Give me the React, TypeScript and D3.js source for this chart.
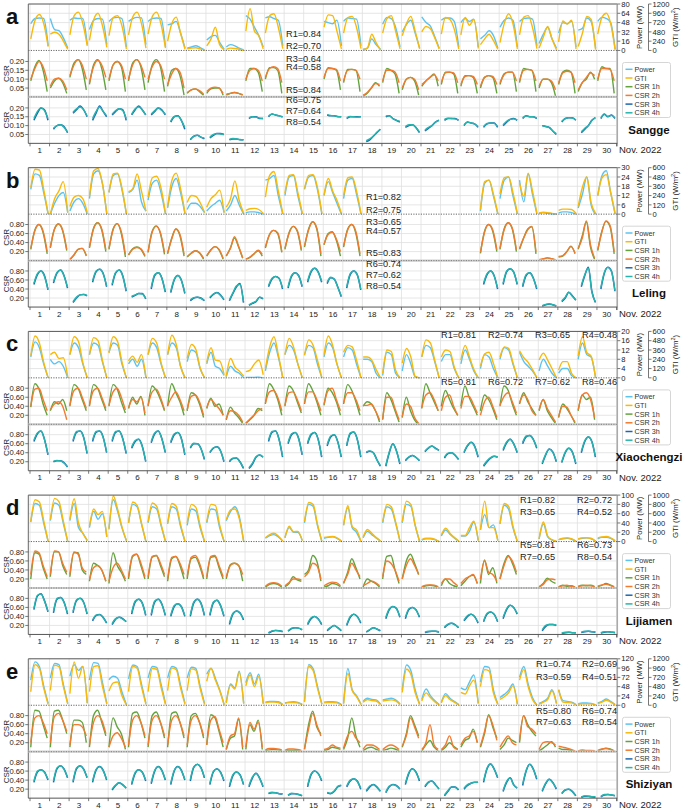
import React from "react";
import * as d3 from "d3";

type Day = number[] | null;

// ---------- shared labels ----------
const SERIES_NAMES = ["Power", "GTI", "CSR 1h", "CSR 2h", "CSR 3h", "CSR 4h"];
const SERIES_COLORS = ["#5cc3f0", "#f9b90a", "#62a33e", "#f47a2e", "#1c66b2", "#25b5ae"];
const DAY_LABELS = d3.range(1, 31).map(String);
const MONTH_LABEL = "Nov. 2022";
const SITES = ["Sangge", "Leling", "Xiaochengzi", "Lijiamen", "Shiziyan"];
const LETTERS = ["a", "b", "c", "d", "e"];

// ---------- Sangge ----------
const sanggePower: Day[] = [
  [46,55,56,55,8],[55,36,34,22,4],[52,56,55,55,10],[36,52,55,54,10],[50,56,57,55,6],
  [50,55,57,56,10],[50,55,56,55,6],[44,46,50,30,4],[4,6,8,5,1],[18,24,26,14,2],
  [6,10,8,4,1],[60,54,40,26,6],[56,58,55,52,8],null,null,
  [50,48,46,52,8],[50,56,55,54,8],[2,4,20,10,2],[45,57,55,40,6],[32,45,52,30,4],
  [58,48,42,24,4],[52,56,56,50,6],[48,55,50,54,6],[20,26,34,26,4],[40,52,56,52,6],
  [50,55,56,54,8],[12,28,40,20,4],[30,48,46,50,6],[35,38,56,50,4],[50,57,55,48,2],
];
const sanggeGTI: Day[] = [
  [300,780,930,700,100],[420,470,420,250,30],[400,900,990,700,120],[260,800,960,650,80],[380,850,900,640,40],
  [400,870,990,700,60],[420,880,990,680,60],[240,700,860,450,30],[40,60,70,40,0],[120,300,600,150,20],
  [30,60,50,30,0],[500,1080,500,380,40],[450,900,950,600,50],null,null,
  [600,920,900,500,40],[450,850,880,600,50],[20,60,420,200,10],[450,820,900,500,40],[380,700,880,500,40],
  [480,620,560,330,40],[420,850,800,550,40],[400,850,650,800,50],[150,300,420,260,30],[200,700,950,700,40],
  [400,860,900,600,50],[60,350,620,300,20],[220,760,680,780,40],[100,450,880,800,20],[420,860,960,700,20],
];
const sanggeCSR1h: Day[] = [
  [0.09,0.17,0.205,0.15,0.03],[0.05,0.09,0.105,0.08,0.02],[0.11,0.19,0.21,0.16,0.04],[0.07,0.18,0.21,0.16,0.04],[0.09,0.18,0.2,0.17,0.03],
  [0.09,0.19,0.21,0.17,0.04],[0.08,0.18,0.21,0.17,0.03],[0.06,0.15,0.16,0.12,0.01],[0.02,0.04,0.045,0.03,0.01],[0.02,0.045,0.05,0.05,0.01],
  [0.01,0.02,0.025,0.02,0.01],[0.09,0.16,0.16,0.14,0.03],[0.1,0.165,0.165,0.15,0.02],null,null,
  [0.1,0.165,0.16,0.15,0.04],[0.08,0.155,0.155,0.15,0.03],[0.005,0.02,0.05,0.08,0.06],[0.08,0.16,0.15,0.13,0.02],[0.04,0.1,0.11,0.09,0.01],
  [0.06,0.09,0.11,0.13,0.06],[0.07,0.14,0.14,0.13,0.02],[0.06,0.12,0.12,0.11,0.02],[0.05,0.11,0.12,0.11,0.02],[0.07,0.13,0.14,0.14,0.03],
  [0.08,0.16,0.155,0.15,0.03],[0.05,0.1,0.1,0.08,0.005],[0.07,0.14,0.15,0.14,0.02],[0.03,0.08,0.1,0.14,0.1],[0.09,0.17,0.16,0.16,0.02],
];
const sanggeCSR2h: Day[] = [
  [0.1,0.16,0.2,0.17,0.09],[0.06,0.1,0.105,0.09,0.04],[0.12,0.18,0.21,0.18,0.1],[0.08,0.17,0.205,0.18,0.11],[0.1,0.18,0.2,0.18,0.1],
  [0.1,0.18,0.21,0.18,0.11],[0.1,0.17,0.2,0.18,0.1],[0.07,0.13,0.16,0.14,0.05],[0.025,0.04,0.045,0.035,0.015],[0.03,0.05,0.055,0.05,0.02],
  [0.015,0.02,0.025,0.02,0.012],[0.1,0.15,0.16,0.15,0.09],[0.11,0.16,0.17,0.16,0.08],null,null,
  [0.11,0.16,0.16,0.155,0.09],[0.09,0.15,0.155,0.15,0.1],[0.01,0.025,0.05,0.075,0.07],[0.09,0.15,0.15,0.14,0.08],[0.05,0.1,0.11,0.1,0.04],
  [0.07,0.09,0.11,0.125,0.09],[0.08,0.135,0.14,0.135,0.08],[0.07,0.115,0.12,0.115,0.07],[0.06,0.11,0.12,0.115,0.07],[0.08,0.125,0.14,0.14,0.09],
  [0.09,0.15,0.155,0.15,0.09],[0.06,0.1,0.1,0.09,0.04],[0.08,0.135,0.145,0.14,0.08],[0.04,0.08,0.11,0.135,0.12],[0.1,0.16,0.16,0.155,0.09],
];
const sanggeCSR3h: Day[] = [
  [0.13,0.17,0.2,0.19,0.13],[0.08,0.1,0.105,0.095,0.06],[0.17,0.19,0.21,0.19,0.15],[0.13,0.17,0.21,0.18,0.15],[0.16,0.18,0.195,0.19,0.13],
  [0.16,0.19,0.21,0.19,0.16],[0.16,0.18,0.2,0.19,0.16],[0.12,0.15,0.155,0.13,0.08],[0.02,0.04,0.045,0.035,0.025],[0.03,0.045,0.055,0.055,0.05],
  [0.02,0.025,0.025,0.02,0.02],[0.14,0.15,0.15,0.14,0.14],[0.15,0.165,0.16,0.155,0.15],null,null,
  [0.16,0.155,0.155,0.15,0.15],[0.14,0.15,0.15,0.15,0.15],[0.01,0.02,0.04,0.06,0.08],[0.15,0.155,0.14,0.13,0.12],[0.09,0.1,0.105,0.09,0.06],
  [0.07,0.085,0.1,0.12,0.13],[0.13,0.14,0.14,0.14,0.13],[0.1,0.12,0.115,0.11,0.09],[0.09,0.11,0.115,0.115,0.09],[0.1,0.12,0.135,0.14,0.13],
  [0.14,0.155,0.15,0.15,0.14],[0.1,0.095,0.09,0.07,0.05],[0.12,0.14,0.145,0.145,0.13],[0.06,0.08,0.1,0.13,0.145],[0.14,0.165,0.15,0.16,0.14],
];
const sanggeCSR4h: Day[] = [
  [0.14,0.18,0.2,0.185,0.14],[0.085,0.1,0.105,0.09,0.065],[0.175,0.195,0.205,0.19,0.155],[0.14,0.18,0.205,0.18,0.155],[0.165,0.185,0.195,0.185,0.14],
  [0.165,0.195,0.205,0.19,0.16],[0.165,0.185,0.2,0.185,0.165],[0.125,0.152,0.155,0.13,0.09],[0.025,0.04,0.045,0.035,0.03],[0.035,0.05,0.055,0.053,0.05],
  [0.022,0.027,0.025,0.022,0.02],[0.145,0.15,0.148,0.142,0.14],[0.155,0.165,0.16,0.155,0.148],null,null,
  [0.162,0.158,0.155,0.152,0.15],[0.145,0.152,0.15,0.148,0.15],[0.015,0.025,0.04,0.062,0.08],[0.155,0.155,0.14,0.13,0.125],[0.095,0.105,0.105,0.09,0.065],
  [0.075,0.09,0.1,0.12,0.13],[0.135,0.142,0.14,0.138,0.132],[0.105,0.12,0.115,0.11,0.095],[0.095,0.112,0.115,0.113,0.095],[0.105,0.125,0.135,0.138,0.132],
  [0.145,0.155,0.15,0.15,0.142],[0.1,0.095,0.088,0.07,0.055],[0.125,0.14,0.145,0.143,0.132],[0.065,0.085,0.1,0.128,0.145],[0.145,0.162,0.152,0.158,0.145],
];
const sanggeR = [0.84, 0.70, 0.64, 0.58, 0.84, 0.75, 0.64, 0.54];

// ---------- Leling ----------
const lelingPower: Day[] = [
  [16,26,25,14,0],[0,7,12,14,1],[2,8,10,7,0],[10,26,28,20,0],[14,25,26,16,0],
  [14,16,22,8,2],[9,20,22,14,0],[4,18,23,14,0],[3,7,7,5,1],[2,5,7,9,1],
  [2,6,12,6,0],[1,1.5,1.5,1,0],[22,23,25,12,0],[12,24,25,12,0],[16,24,25,16,0],
  [12,21,14,7,0],[10,22,23,13,0],null,null,null,
  null,null,null,[2,20,22,12,0],[10,22,24,12,0],
  [22,8,26,13,0],[0.5,1,0.5,0.3,0],[0.8,1.5,1.5,1,0],[4,13,24,6,0],[12,25,28,14,0],
];
const lelingGTI: Day[] = [
  [340,580,570,320,0],[0,200,300,420,20],[100,220,240,200,20],[230,560,590,400,0],[280,520,530,340,10],
  [290,330,520,300,40],[220,470,490,340,10],[100,440,530,330,10],[150,240,230,150,20],[90,200,250,310,20],
  [90,200,430,180,10],[50,70,75,60,10],[220,500,550,300,10],[270,500,510,280,10],[330,500,510,350,10],
  [250,460,300,180,10],[240,470,480,300,10],null,null,null,
  null,null,null,[60,420,440,260,10],[260,470,480,280,10],
  [400,230,530,300,10],[15,25,20,10,5],[50,65,65,60,10],[100,350,480,150,10],[240,470,510,280,10],
];
const lelingCSR1h: Day[] = [
  [0.25,0.68,0.8,0.62,0.15],[0.28,0.7,0.81,0.66,0.22],[0.02,0.12,0.25,0.27,0.1],[0.28,0.72,0.84,0.68,0.2],[0.25,0.7,0.82,0.6,0.08],
  [0.12,0.26,0.3,0.25,0.09],[0.18,0.65,0.77,0.6,0.14],[0.15,0.5,0.7,0.55,0.1],[0.08,0.17,0.22,0.17,0.03],[0.1,0.24,0.31,0.24,0.03],
  [0.1,0.28,0.5,0.3,0.05],[0.02,0.07,0.15,0.22,0.1],[0.28,0.58,0.67,0.6,0.18],[0.25,0.62,0.76,0.65,0.22],[0.3,0.7,0.86,0.7,0.1],
  [0.35,0.6,0.64,0.45,0.1],[0.3,0.7,0.8,0.6,0.1],null,null,null,
  null,null,null,[0.16,0.65,0.8,0.65,0.2],[0.25,0.7,0.84,0.7,0.2],
  [0.25,0.5,0.7,0.75,0.15],[0.01,0.03,0.06,0.04,0.01],[0.08,0.1,0.2,0.32,0.15],[0.25,0.55,0.86,0.3,0.03],[0.22,0.65,0.87,0.75,0.15],
];
const lelingCSR2h: Day[] = [
  [0.27,0.66,0.8,0.65,0.2],[0.3,0.69,0.81,0.68,0.25],[0.03,0.13,0.25,0.27,0.12],[0.3,0.7,0.84,0.7,0.24],[0.27,0.68,0.82,0.64,0.14],
  [0.13,0.25,0.29,0.26,0.11],[0.2,0.63,0.76,0.62,0.18],[0.17,0.48,0.7,0.58,0.14],[0.09,0.16,0.22,0.18,0.05],[0.11,0.23,0.31,0.25,0.05],
  [0.11,0.27,0.53,0.32,0.06],[0.03,0.08,0.15,0.23,0.14],[0.3,0.57,0.67,0.62,0.2],[0.27,0.6,0.76,0.67,0.25],[0.32,0.68,0.86,0.72,0.15],
  [0.36,0.58,0.63,0.48,0.2],[0.32,0.68,0.8,0.64,0.15],null,null,null,
  null,null,null,[0.18,0.63,0.8,0.68,0.24],[0.27,0.68,0.84,0.72,0.24],
  [0.27,0.5,0.68,0.76,0.2],[0.02,0.04,0.06,0.04,0.02],[0.09,0.11,0.2,0.31,0.17],[0.27,0.5,0.88,0.35,0.05],[0.24,0.63,0.88,0.78,0.2],
];
const lelingCSR3h: Day[] = [
  [0.5,0.72,0.8,0.7,0.38],[0.53,0.75,0.82,0.7,0.42],[0.1,0.2,0.27,0.28,0.25],[0.55,0.78,0.84,0.75,0.45],[0.48,0.75,0.82,0.7,0.35],
  [0.22,0.26,0.3,0.3,0.18],[0.4,0.7,0.76,0.65,0.33],[0.32,0.6,0.7,0.6,0.3],[0.14,0.2,0.22,0.2,0.14],[0.2,0.28,0.32,0.27,0.16],
  [0.14,0.3,0.45,0.52,0.1],[0.04,0.08,0.12,0.22,0.18],[0.45,0.62,0.68,0.64,0.4],[0.42,0.68,0.76,0.7,0.45],[0.55,0.78,0.86,0.78,0.55],
  [0.52,0.65,0.62,0.45,0.23],[0.42,0.72,0.8,0.72,0.38],null,null,null,
  null,null,null,[0.5,0.72,0.8,0.7,0.4],[0.5,0.78,0.85,0.78,0.5],
  [0.45,0.7,0.76,0.65,0.4],[0.02,0.05,0.07,0.05,0.02],[0.12,0.2,0.33,0.25,0.15],[0.45,0.7,0.88,0.35,0.1],[0.4,0.75,0.88,0.8,0.35],
];
const lelingCSR4h: Day[] = [
  [0.53,0.74,0.8,0.68,0.4],[0.56,0.77,0.82,0.69,0.44],[0.12,0.22,0.27,0.28,0.26],[0.58,0.8,0.84,0.74,0.47],[0.51,0.77,0.82,0.69,0.37],
  [0.24,0.27,0.3,0.29,0.19],[0.43,0.72,0.76,0.64,0.35],[0.35,0.62,0.7,0.59,0.32],[0.16,0.21,0.22,0.19,0.15],[0.22,0.29,0.32,0.26,0.17],
  [0.16,0.32,0.47,0.5,0.12],[0.05,0.09,0.13,0.22,0.19],[0.48,0.64,0.68,0.63,0.42],[0.45,0.7,0.76,0.69,0.47],[0.58,0.8,0.86,0.77,0.57],
  [0.55,0.66,0.62,0.44,0.25],[0.45,0.74,0.8,0.71,0.4],null,null,null,
  null,null,null,[0.53,0.74,0.8,0.69,0.42],[0.53,0.8,0.85,0.77,0.52],
  [0.48,0.72,0.76,0.64,0.42],[0.03,0.06,0.07,0.05,0.03],[0.14,0.22,0.33,0.24,0.16],[0.48,0.72,0.86,0.33,0.12],[0.43,0.77,0.88,0.79,0.37],
];
const lelingR = [0.82, 0.75, 0.65, 0.57, 0.83, 0.74, 0.62, 0.54];

// ---------- Xiaochengzi ----------
const xiaoPower: Day[] = [
  [9,15.5,13,6,0],[8,6,7,5,0],[10,15,13,6,0],[10,15,14,7,0],[11,15,14,6,0],
  [6,8,5,8,0],[10,15,13,6,0],[10,15,13,5,0],[7,12,11,4,0],[6,11,5,4,1],
  [0.5,5,3,2,0],[0.2,0.2,0.2,0.3,0],[3,11,15,9,0],[10,14,12,6,0],[10,14,13,6,0],
  [9,15,13,6,0],[9,13,12,6,0],[8,8,7,2,0],[1,11,10,2,0],[3,10,6,0.5,0],
  [9,14,13,7,0],[7,10,10,4,0],[6,12,8,3,0],[4,10,9,4,0],[8,13,12,6,0],
  [11,7,5,3,0],[3,8,5,2,0],[2,4,4,1,0],[8,15,10,9,0],null,
];
const xiaoGTI: Day[] = [
  [280,540,450,200,0],[300,330,250,260,10],[300,530,470,200,0],[300,520,480,230,0],[320,530,470,210,0],
  [220,280,200,300,10],[300,510,450,200,0],[300,550,430,150,0],[250,430,370,130,0],[200,390,230,220,40],
  [20,250,140,90,20],[80,100,180,230,40],[120,400,530,300,0],[300,510,400,180,0],[290,490,420,230,0],
  [300,540,420,180,0],[330,420,400,230,0],[270,270,230,110,0],[60,360,340,100,0],[190,380,270,20,0],
  [270,490,450,230,0],[270,360,340,140,0],[230,420,270,110,0],[150,310,330,190,0],[270,400,380,200,0],
  [350,260,200,110,0],[230,320,230,120,0],[100,210,210,60,0],[280,530,330,280,0],null,
];
const xiaoCSR1h: Day[] = [
  [0.38,0.9,0.78,0.45,0.2],[0.3,0.5,0.45,0.55,0.3],[0.4,0.88,0.8,0.55,0.3],[0.4,0.88,0.8,0.55,0.3],[0.4,0.88,0.78,0.5,0.25],
  [0.35,0.6,0.45,0.62,0.2],[0.4,0.85,0.75,0.55,0.3],[0.4,0.9,0.7,0.5,0.2],[0.3,0.7,0.65,0.45,0.15],[0.35,0.58,0.4,0.45,0.2],
  [0.1,0.38,0.25,0.15,0.02],[0.02,0.1,0.2,0.35,0.3],[0.45,0.9,0.78,0.55,0.2],[0.4,0.85,0.75,0.5,0.25],[0.45,0.9,0.75,0.5,0.2],
  [0.42,0.8,0.7,0.5,0.2],[0.45,0.88,0.75,0.5,0.2],[0.4,0.5,0.45,0.3,0.05],[0.1,0.7,0.55,0.3,0.05],[0.15,0.6,0.3,0.1,0.0],
  [0.35,0.9,0.7,0.5,0.3],[0.4,0.75,0.55,0.35,0.2],[0.4,0.85,0.6,0.4,0.2],[0.3,0.65,0.55,0.35,0.1],[0.4,0.85,0.75,0.45,0.2],
  [0.45,0.7,0.5,0.35,0.2],[0.3,0.55,0.3,0.15,0.02],[0.15,0.45,0.35,0.2,0.02],[0.3,0.65,0.55,0.6,0.1],null,
];
const xiaoCSR2h: Day[] = [
  [0.4,0.78,0.8,0.55,0.3],[0.32,0.45,0.5,0.4,0.1],[0.42,0.75,0.8,0.6,0.35],[0.42,0.75,0.8,0.6,0.35],[0.42,0.72,0.8,0.6,0.32],
  [0.36,0.55,0.5,0.6,0.25],[0.42,0.72,0.78,0.6,0.32],[0.42,0.6,0.72,0.55,0.3],[0.32,0.62,0.65,0.5,0.2],[0.36,0.55,0.45,0.35,0.2],
  [0.12,0.3,0.28,0.2,0.05],[0.03,0.12,0.2,0.3,0.35],[0.47,0.72,0.75,0.6,0.3],[0.42,0.7,0.72,0.55,0.3],[0.47,0.72,0.72,0.55,0.3],
  [0.44,0.75,0.8,0.55,0.3],[0.47,0.7,0.7,0.55,0.3],[0.42,0.42,0.45,0.3,0.1],[0.12,0.6,0.6,0.35,0.1],[0.17,0.45,0.4,0.15,0.02],
  [0.37,0.65,0.7,0.55,0.3],[0.3,0.6,0.65,0.4,0.2],[0.35,0.62,0.62,0.45,0.25],[0.2,0.5,0.6,0.4,0.15],[0.42,0.62,0.7,0.5,0.25],
  [0.47,0.65,0.55,0.3,0.2],[0.32,0.55,0.35,0.2,0.05],[0.17,0.4,0.38,0.2,0.05],[0.32,0.65,0.7,0.55,0.15],null,
];
const xiaoCSR3h: Day[] = [
  [0.65,0.82,0.88,0.7,0.35],[0.2,0.22,0.22,0.18,0.08],[0.65,0.85,0.88,0.75,0.38],[0.65,0.85,0.88,0.75,0.4],[0.65,0.85,0.88,0.72,0.38],
  [0.5,0.65,0.7,0.55,0.2],[0.62,0.82,0.88,0.72,0.4],[0.62,0.8,0.85,0.72,0.35],[0.5,0.6,0.6,0.5,0.25],[0.4,0.5,0.53,0.45,0.2],
  [0.2,0.27,0.28,0.2,0.05],[0.05,0.15,0.3,0.35,0.3],[0.65,0.85,0.88,0.7,0.3],[0.6,0.8,0.85,0.72,0.35],[0.6,0.8,0.85,0.7,0.3],
  [0.55,0.75,0.8,0.65,0.3],[0.55,0.82,0.86,0.7,0.3],[0.4,0.43,0.4,0.25,0.1],[0.1,0.4,0.6,0.45,0.15],[0.22,0.3,0.34,0.3,0.22],
  [0.42,0.5,0.55,0.5,0.45],[0.28,0.38,0.4,0.35,0.25],[0.4,0.55,0.63,0.55,0.3],[0.1,0.2,0.28,0.32,0.3],[0.45,0.62,0.7,0.6,0.4],
  [0.6,0.75,0.78,0.7,0.5],[0.15,0.35,0.48,0.42,0.2],[0.18,0.4,0.5,0.42,0.15],[0.4,0.65,0.75,0.65,0.3],null,
];
const xiaoCSR4h: Day[] = [
  [0.68,0.84,0.88,0.69,0.37],[0.21,0.23,0.22,0.17,0.09],[0.68,0.87,0.88,0.74,0.4],[0.68,0.87,0.88,0.74,0.42],[0.68,0.87,0.88,0.71,0.4],
  [0.53,0.67,0.7,0.54,0.22],[0.65,0.84,0.88,0.71,0.42],[0.65,0.82,0.85,0.71,0.37],[0.52,0.61,0.6,0.49,0.27],[0.42,0.51,0.53,0.44,0.22],
  [0.22,0.28,0.28,0.19,0.07],[0.07,0.17,0.31,0.35,0.31],[0.68,0.87,0.88,0.69,0.32],[0.63,0.82,0.85,0.71,0.37],[0.63,0.82,0.85,0.69,0.32],
  [0.58,0.77,0.8,0.64,0.32],[0.58,0.84,0.86,0.69,0.32],[0.42,0.44,0.4,0.24,0.12],[0.12,0.42,0.6,0.44,0.17],[0.24,0.31,0.34,0.29,0.23],
  [0.44,0.51,0.55,0.49,0.46],[0.3,0.39,0.4,0.34,0.26],[0.42,0.57,0.63,0.54,0.32],[0.12,0.22,0.29,0.32,0.31],[0.48,0.64,0.7,0.59,0.42],
  [0.63,0.77,0.78,0.69,0.52],[0.17,0.37,0.48,0.41,0.22],[0.2,0.42,0.5,0.41,0.17],[0.43,0.67,0.75,0.64,0.32],null,
];
const xiaoR = [0.81, 0.74, 0.65, 0.48, 0.81, 0.72, 0.62, 0.46];

// ---------- Lijiamen ----------
const lijiaPower: Day[] = [
  [42,82,78,40,0],[45,83,78,40,0],[45,82,30,18,2],[30,65,48,60,10],[28,90,65,30,2],
  [40,80,75,38,0],[40,75,70,35,0],[38,75,70,33,0],[35,70,66,30,0],[40,70,68,30,0],
  [45,65,75,55,0],null,[7,13,15,10,1],[8,30,20,20,2],[40,80,76,35,0],
  [7,9,10,7,1],[35,73,30,20,0],[8,22,15,8,1],[40,75,70,40,0],[40,80,76,35,0],
  [3,6,6,4,0],[12,25,16,8,1],[12,12,22,42,2],[25,58,30,36,2],[38,78,70,30,0],
  null,[5,38,10,3,0],[4,6,7,5,1],[5,7,8,6,1],[6,9,9,7,1],
];
const lijiaGTI: Day[] = [
  [440,900,850,450,0],[470,930,860,450,0],[480,920,400,180,20],[330,700,580,650,100],[260,980,700,320,20],
  [400,850,780,400,0],[420,830,760,380,0],[400,820,760,370,0],[400,800,740,350,0],[420,800,780,360,0],
  [470,680,700,500,0],null,[80,150,180,120,10],[90,330,210,220,20],[440,840,800,380,0],
  [90,100,110,80,10],[360,770,320,250,0],[100,260,180,90,10],[420,800,750,420,0],[420,870,800,360,0],
  [40,70,70,50,0],[140,290,180,90,10],[130,130,300,440,20],[250,870,300,300,20],[380,820,760,340,0],
  null,[60,420,120,40,10],[40,70,80,60,10],[60,80,80,70,10],[80,100,110,80,20],
];
const lijiaCSR1h: Day[] = [
  [0.2,0.78,0.75,0.45,0.2],[0.25,0.8,0.8,0.5,0.3],[0.25,0.78,0.78,0.4,0.3],[0.15,0.55,0.5,0.4,0.15],[0.1,0.78,0.5,0.35,0.15],
  [0.2,0.7,0.75,0.5,0.2],[0.2,0.68,0.72,0.5,0.25],[0.15,0.65,0.7,0.5,0.2],[0.2,0.65,0.68,0.5,0.2],[0.2,0.68,0.7,0.45,0.2],
  [0.2,0.52,0.55,0.5,0.15],null,[0.02,0.08,0.1,0.08,0.02],[0.03,0.1,0.25,0.18,0.15],[0.3,0.4,0.72,0.6,0.15],
  [0.02,0.05,0.1,0.08,0.03],[0.1,0.35,0.65,0.45,0.2],[0.02,0.2,0.15,0.1,0.02],[0.2,0.7,0.72,0.4,0.1],[0.2,0.6,0.75,0.55,0.3],
  [0.02,0.05,0.06,0.05,0.02],[0.05,0.2,0.1,0.05,0.02],[0.05,0.15,0.25,0.28,0.1],[0.1,0.62,0.3,0.45,0.1],[0.2,0.55,0.72,0.55,0.3],
  null,[0.02,0.1,0.22,0.15,0.1],[0.02,0.06,0.04,0.05,0.02],[0.03,0.06,0.05,0.06,0.03],[0.03,0.06,0.1,0.07,0.03],
];
const lijiaCSR2h: Day[] = [
  [0.3,0.82,0.78,0.5,0.25],[0.3,0.82,0.8,0.55,0.35],[0.3,0.8,0.75,0.45,0.35],[0.18,0.45,0.5,0.4,0.15],[0.15,0.45,0.55,0.4,0.2],
  [0.25,0.72,0.75,0.55,0.25],[0.25,0.7,0.72,0.55,0.3],[0.2,0.68,0.7,0.55,0.3],[0.25,0.68,0.72,0.55,0.25],[0.25,0.7,0.72,0.5,0.25],
  [0.25,0.5,0.55,0.5,0.3],null,[0.04,0.1,0.12,0.1,0.04],[0.05,0.12,0.2,0.2,0.18],[0.25,0.35,0.55,0.5,0.2],
  [0.05,0.1,0.13,0.12,0.05],[0.12,0.3,0.55,0.4,0.25],[0.05,0.1,0.15,0.12,0.05],[0.25,0.6,0.55,0.4,0.15],[0.2,0.5,0.65,0.5,0.3],
  [0.03,0.06,0.07,0.06,0.03],[0.1,0.2,0.2,0.12,0.05],[0.1,0.2,0.25,0.3,0.1],[0.2,0.6,0.35,0.3,0.15],[0.2,0.5,0.7,0.6,0.35],
  null,[0.03,0.08,0.18,0.2,0.18],[0.03,0.05,0.06,0.04,0.02],[0.04,0.05,0.06,0.05,0.03],[0.04,0.07,0.08,0.06,0.02],
];
const lijiaCSR3h: Day[] = [
  [0.55,0.85,0.9,0.75,0.5],[0.48,0.78,0.82,0.72,0.45],[0.48,0.75,0.8,0.72,0.45],[0.3,0.42,0.44,0.38,0.25],[0.22,0.34,0.38,0.35,0.28],
  [0.45,0.72,0.78,0.7,0.42],[0.42,0.72,0.78,0.68,0.42],[0.4,0.62,0.68,0.62,0.4],[0.4,0.7,0.78,0.7,0.42],[0.42,0.7,0.76,0.65,0.4],
  [0.22,0.45,0.52,0.48,0.32],null,[0.03,0.07,0.09,0.08,0.06],[0.07,0.13,0.15,0.14,0.1],[0.22,0.35,0.4,0.35,0.22],
  [0.08,0.15,0.2,0.15,0.08],[0.2,0.38,0.45,0.4,0.25],[0.05,0.1,0.15,0.12,0.08],[0.35,0.55,0.62,0.58,0.38],[0.35,0.55,0.6,0.55,0.38],
  [0.04,0.06,0.07,0.07,0.05],[0.15,0.22,0.25,0.22,0.15],[0.3,0.4,0.45,0.4,0.25],[0.28,0.45,0.5,0.45,0.28],[0.35,0.55,0.65,0.6,0.45],
  null,[0.08,0.18,0.22,0.22,0.2],[0.02,0.04,0.05,0.04,0.03],[0.04,0.06,0.07,0.06,0.05],[0.03,0.05,0.06,0.05,0.04],
];
const lijiaCSR4h: Day[] = [
  [0.58,0.87,0.9,0.74,0.52],[0.51,0.8,0.82,0.71,0.47],[0.51,0.77,0.8,0.71,0.47],[0.32,0.43,0.44,0.37,0.26],[0.24,0.35,0.38,0.34,0.29],
  [0.48,0.74,0.78,0.69,0.44],[0.45,0.74,0.78,0.67,0.44],[0.43,0.64,0.68,0.61,0.42],[0.43,0.72,0.78,0.69,0.44],[0.45,0.72,0.76,0.64,0.42],
  [0.25,0.47,0.52,0.47,0.34],null,[0.04,0.08,0.09,0.08,0.07],[0.08,0.14,0.15,0.14,0.11],[0.24,0.37,0.4,0.34,0.24],
  [0.1,0.16,0.2,0.15,0.09],[0.22,0.4,0.45,0.39,0.27],[0.06,0.11,0.15,0.12,0.09],[0.38,0.57,0.62,0.57,0.4],[0.38,0.57,0.6,0.54,0.4],
  [0.05,0.07,0.07,0.07,0.06],[0.17,0.23,0.25,0.21,0.16],[0.32,0.42,0.45,0.39,0.27],[0.3,0.47,0.5,0.44,0.3],[0.38,0.57,0.65,0.59,0.47],
  null,[0.1,0.2,0.22,0.22,0.21],[0.03,0.05,0.05,0.04,0.04],[0.05,0.07,0.07,0.06,0.06],[0.04,0.06,0.06,0.05,0.05],
];
const lijiaR = [0.82, 0.72, 0.65, 0.52, 0.81, 0.73, 0.65, 0.54];

// ---------- Shiziyan ----------
const shiziPower: Day[] = [
  [65,112,100,50,5],[70,108,105,55,5],[75,105,90,100,5],[65,110,108,60,5],[66,75,70,35,2],
  [68,104,100,55,5],[70,100,98,55,5],[70,100,96,52,5],[70,98,95,50,5],[80,96,70,40,2],
  [8,55,45,88,5],[58,84,55,80,5],[8,10,10,9,2],[6,8,9,7,2],[10,105,95,50,3],
  [8,9,9,8,2],[5,95,40,25,3],[10,18,15,14,3],[14,16,18,14,3],[40,104,90,40,3],
  [15,42,25,12,2],[8,30,18,10,2],[45,40,60,78,5],[60,100,98,40,3],[20,28,38,55,3],
  [72,100,55,20,0],[5,10,18,40,5],[40,12,10,8,2],[4,6,6,5,1],[6,10,16,10,2],
];
const shiziGTI: Day[] = [
  [350,1050,950,450,20],[380,1030,1000,500,30],[300,1120,700,1000,50],[350,1000,1020,500,30],[370,580,600,250,10],
  [350,1000,960,480,20],[350,950,930,470,20],[380,960,920,450,20],[380,940,910,440,20],[620,950,650,380,10],
  [60,520,420,850,40],[500,780,480,740,30],[60,80,80,70,10],[50,70,70,60,10],[80,1000,900,450,20],
  [60,70,70,60,10],[40,820,380,220,20],[80,150,120,110,20],[110,130,140,110,20],[330,930,800,330,20],
  [110,320,200,90,10],[60,250,150,80,10],[330,290,500,650,40],[480,920,890,330,20],[150,220,320,500,20],
  [650,920,480,150,0],[30,80,150,370,40],[400,80,70,60,10],[30,40,40,35,10],[40,80,130,80,10],
];
const shiziCSR1h: Day[] = [
  [0.1,0.92,0.9,0.6,0.3],[0.1,0.9,0.92,0.7,0.4],[0.1,0.7,0.7,0.65,0.2],[0.1,0.8,0.92,0.65,0.35],[0.1,0.75,0.55,0.4,0.05],
  [0.1,0.85,0.88,0.65,0.3],[0.1,0.8,0.88,0.65,0.3],[0.1,0.85,0.88,0.65,0.3],[0.1,0.8,0.85,0.65,0.3],[0.15,0.82,0.75,0.45,0.1],
  [0.05,0.3,0.35,0.72,0.05],[0.05,0.6,0.45,0.7,0.05],[0.02,0.04,0.05,0.04,0.02],[0.01,0.03,0.03,0.03,0.01],[0.05,0.6,0.9,0.55,0.4],
  [0.02,0.05,0.1,0.08,0.05],[0.05,0.3,0.75,0.35,0.1],[0.02,0.08,0.1,0.06,0.02],[0.03,0.05,0.08,0.06,0.02],[0.1,0.4,0.8,0.6,0.35],
  [0.01,0.15,0.25,0.1,0.02],[0.02,0.1,0.2,0.12,0.05],[0.1,0.25,0.3,0.5,0.2],[0.1,0.4,0.82,0.55,0.3],[0.05,0.15,0.3,0.25,0.2],
  [0.2,0.8,0.6,0.45,0.35],[0.02,0.08,0.15,0.22,0.1],[0.08,0.05,0.05,0.03,0.01],[0.01,0.02,0.02,0.02,0.01],[0.02,0.05,0.08,0.06,0.02],
];
const shiziCSR2h: Day[] = [
  [0.2,0.75,0.8,0.65,0.4],[0.2,0.78,0.85,0.7,0.45],[0.15,0.6,0.6,0.55,0.35],[0.15,0.65,0.8,0.7,0.4],[0.1,0.35,0.42,0.3,0.1],
  [0.15,0.7,0.8,0.65,0.35],[0.15,0.7,0.8,0.65,0.35],[0.15,0.7,0.8,0.65,0.35],[0.15,0.7,0.8,0.65,0.35],[0.15,0.7,0.78,0.5,0.2],
  [0.05,0.35,0.4,0.75,0.1],[0.1,0.65,0.5,0.65,0.1],[0.04,0.07,0.07,0.06,0.04],[0.03,0.06,0.06,0.05,0.03],[0.06,0.5,0.85,0.6,0.35],
  [0.05,0.08,0.15,0.1,0.08],[0.08,0.35,0.45,0.3,0.2],[0.05,0.15,0.15,0.12,0.05],[0.05,0.12,0.15,0.12,0.05],[0.12,0.35,0.75,0.55,0.3],
  [0.05,0.2,0.6,0.15,0.05],[0.05,0.15,0.35,0.1,0.05],[0.15,0.3,0.35,0.45,0.2],[0.12,0.45,0.8,0.6,0.25],[0.1,0.25,0.35,0.2,0.15],
  [0.25,0.8,0.55,0.5,0.4],[0.05,0.2,0.22,0.2,0.15],[0.12,0.1,0.08,0.05,0.02],[0.02,0.04,0.03,0.03,0.02],[0.03,0.06,0.07,0.05,0.02],
];
const shiziCSR3h: Day[] = [
  [0.35,0.58,0.63,0.58,0.4],[0.35,0.65,0.72,0.65,0.45],[0.35,0.65,0.72,0.65,0.45],[0.35,0.62,0.7,0.62,0.4],[0.18,0.28,0.34,0.3,0.22],
  [0.3,0.55,0.63,0.58,0.38],[0.32,0.6,0.7,0.62,0.4],[0.3,0.6,0.7,0.62,0.4],[0.38,0.68,0.75,0.68,0.45],[0.3,0.58,0.65,0.58,0.38],
  [0.25,0.5,0.58,0.52,0.3],[0.25,0.45,0.55,0.45,0.25],[0.1,0.12,0.12,0.1,0.09],[0.06,0.1,0.1,0.08,0.05],[0.25,0.52,0.6,0.55,0.38],
  [0.12,0.1,0.15,0.25,0.28],[0.25,0.38,0.43,0.38,0.2],[0.15,0.25,0.3,0.25,0.15],[0.12,0.25,0.3,0.28,0.2],[0.3,0.55,0.65,0.58,0.38],
  [0.25,0.35,0.38,0.3,0.2],[0.05,0.15,0.25,0.25,0.18],[0.2,0.28,0.33,0.35,0.35],[0.35,0.65,0.76,0.65,0.45],[0.15,0.35,0.45,0.3,0.22],
  [0.28,0.6,0.75,0.65,0.42],[0.15,0.32,0.42,0.35,0.2],[0.1,0.18,0.2,0.15,0.05],[0.02,0.04,0.04,0.03,0.02],[0.03,0.07,0.08,0.07,0.05],
];
const shiziCSR4h: Day[] = [
  [0.38,0.6,0.63,0.57,0.42],[0.38,0.67,0.72,0.64,0.47],[0.38,0.67,0.72,0.64,0.47],[0.38,0.64,0.7,0.61,0.42],[0.2,0.29,0.34,0.29,0.23],
  [0.33,0.57,0.63,0.57,0.4],[0.35,0.62,0.7,0.61,0.42],[0.33,0.62,0.7,0.61,0.42],[0.41,0.7,0.75,0.67,0.47],[0.33,0.6,0.65,0.57,0.4],
  [0.28,0.52,0.58,0.51,0.32],[0.28,0.47,0.55,0.44,0.27],[0.11,0.13,0.12,0.1,0.1],[0.07,0.11,0.1,0.08,0.06],[0.28,0.54,0.6,0.54,0.4],
  [0.13,0.11,0.16,0.26,0.29],[0.27,0.4,0.43,0.37,0.22],[0.17,0.27,0.3,0.24,0.16],[0.14,0.27,0.3,0.27,0.21],[0.33,0.57,0.65,0.57,0.4],
  [0.27,0.36,0.38,0.29,0.21],[0.07,0.17,0.25,0.24,0.19],[0.22,0.3,0.33,0.35,0.35],[0.38,0.67,0.76,0.64,0.47],[0.17,0.37,0.45,0.29,0.23],
  [0.31,0.62,0.75,0.64,0.44],[0.17,0.34,0.42,0.34,0.22],[0.11,0.19,0.2,0.14,0.06],[0.03,0.05,0.04,0.03,0.03],[0.04,0.08,0.08,0.07,0.06],
];
const shiziR = [0.74, 0.69, 0.59, 0.51, 0.80, 0.74, 0.63, 0.54];

// ---------- axis ticks ----------
const powerTicksA = [0, 16, 32, 48, 64, 80];
const gtiTicksA = [0, 240, 480, 720, 960, 1200];
const powerTicksB = [0, 6, 12, 18, 24, 30];
const gtiTicksB = [0, 120, 240, 360, 480, 600];
const powerTicksC = [0, 4, 8, 12, 16, 20];
const gtiTicksC = [0, 120, 240, 360, 480, 600];
const powerTicksD = [0, 20, 40, 60, 80, 100];
const gtiTicksD = [0, 200, 400, 600, 800, 1000];
const powerTicksE = [0, 24, 48, 72, 96, 120];
const gtiTicksE = [0, 240, 480, 720, 960, 1200];
const csrTicksSmall = [0.05, 0.1, 0.15, 0.2];
const csrTicksLarge = [0.2, 0.4, 0.6, 0.8];

// ---------- layout ----------
const W = 683, H = 810;
const PANEL_STEP = 163.7;
const PANEL_TOP0 = 4;
const SUB_H = 46.45;
const XL = 28.3, XR = 617.3;
const XG = 648.5;
const FR_TOP = [0.04, 0.26, 0.48, 0.7, 0.93];
const FR_MID = [0.04, 0.25, 0.46, 0.67, 0.88];
const FR_BOT = [0.2, 0.38, 0.56, 0.74, 0.92];
const FONT = "Liberation Sans, Arial, Helvetica, sans-serif";

type RPos = { x: number; y: number };
interface PanelCfg {
  series: Day[][];
  powerTicks: number[];
  gtiTicks: number[];
  csrTicks: number[];
  csrMax: number;
  r: number[];
  rPos: RPos[];
}

const vertR = (x: number): RPos[] =>
  [32.5, 45.2, 57.5, 66.2, 88.5, 99.2, 110.2, 120.9].map((y) => ({ x, y }));
const gridR = (xs: number[], ys: number[]): RPos[] =>
  [0, 1, 2, 3, 4, 5, 6, 7].map((i) => ({ x: xs[i % xs.length], y: ys[Math.floor(i / xs.length)] }));

const PANELS: PanelCfg[] = [
  {
    series: [sanggePower, sanggeGTI, sanggeCSR1h, sanggeCSR2h, sanggeCSR3h, sanggeCSR4h],
    powerTicks: powerTicksA, gtiTicks: gtiTicksA, csrTicks: csrTicksSmall, csrMax: 0.262,
    r: sanggeR, rPos: vertR(286),
  },
  {
    series: [lelingPower, lelingGTI, lelingCSR1h, lelingCSR2h, lelingCSR3h, lelingCSR4h],
    powerTicks: powerTicksB, gtiTicks: gtiTicksB, csrTicks: csrTicksLarge, csrMax: 1.03,
    r: lelingR, rPos: vertR(366),
  },
  {
    series: [xiaoPower, xiaoGTI, xiaoCSR1h, xiaoCSR2h, xiaoCSR3h, xiaoCSR4h],
    powerTicks: powerTicksC, gtiTicks: gtiTicksC, csrTicks: csrTicksLarge, csrMax: 1.03,
    r: xiaoR, rPos: gridR([441, 488, 535, 582], [7, 53.5]),
  },
  {
    series: [lijiaPower, lijiaGTI, lijiaCSR1h, lijiaCSR2h, lijiaCSR3h, lijiaCSR4h],
    powerTicks: powerTicksD, gtiTicks: gtiTicksD, csrTicks: csrTicksLarge, csrMax: 1.03,
    r: lijiaR, rPos: gridR([520, 577], [7.5, 19.8, 53.3, 65]),
  },
  {
    series: [shiziPower, shiziGTI, shiziCSR1h, shiziCSR2h, shiziCSR3h, shiziCSR4h],
    powerTicks: powerTicksE, gtiTicks: gtiTicksE, csrTicks: csrTicksLarge, csrMax: 1.03,
    r: shiziR, rPos: gridR([536, 582], [8.5, 20.8, 54.8, 65.8]),
  },
];

const x = d3.scaleLinear().domain([0, 30]).range([30, 616.5]);
const lineGen = d3.line<[number, number]>().curve(d3.curveMonotoneX);

function dayPaths(data: Day[], fr: number[], y: d3.ScaleLinear<number, number>): string {
  return data
    .map((day, i) => (day ? lineGen(day.map((v, j) => [x(i + fr[j]), y(v)] as [number, number])) || "" : ""))
    .join("");
}

function Panel({ cfg, idx }: { cfg: PanelCfg; idx: number }) {
  const top = PANEL_TOP0 + idx * PANEL_STEP;
  const y0 = top, y1 = top + SUB_H, y2 = top + 2 * SUB_H, y3 = top + 3 * SUB_H;
  const pMax = cfg.powerTicks[cfg.powerTicks.length - 1];
  const gMax = cfg.gtiTicks[cfg.gtiTicks.length - 1];
  const yP = d3.scaleLinear().domain([0, pMax]).range([y1, y0]);
  const yG = d3.scaleLinear().domain([0, gMax]).range([y1, y0]);
  const yM = d3.scaleLinear().domain([0, cfg.csrMax]).range([y2, y1]);
  const yB = d3.scaleLinear().domain([0, cfg.csrMax]).range([y3, y2]);
  const fmt = d3.format(".2f");
  const gridColor = "#e0e0e0";
  const tickColor = "#555";
  const [sP, sG, s1, s2, s3, s4] = cfg.series;

  return (
    <g fontFamily={FONT}>
      {/* vertical grid */}
      {d3.range(0, 31).map((k) => (
        <line key={"vg" + k} x1={x(k)} x2={x(k)} y1={y0} y2={y3} stroke={gridColor} strokeWidth={0.8} />
      ))}
      {/* horizontal grid */}
      {cfg.powerTicks.slice(1, -1).map((t) => (
        <line key={"hp" + t} x1={XL} x2={XR} y1={yP(t)} y2={yP(t)} stroke={gridColor} strokeWidth={0.8} />
      ))}
      {cfg.csrTicks.map((t) => (
        <g key={"hc" + t}>
          <line x1={XL} x2={XR} y1={yM(t)} y2={yM(t)} stroke={gridColor} strokeWidth={0.8} />
          <line x1={XL} x2={XR} y1={yB(t)} y2={yB(t)} stroke={gridColor} strokeWidth={0.8} />
        </g>
      ))}

      {/* series */}
      <path d={dayPaths(sP, FR_TOP, yP)} fill="none" stroke={SERIES_COLORS[0]} strokeWidth={1.4} strokeLinejoin="round" />
      <path d={dayPaths(sG, FR_TOP, yG)} fill="none" stroke={SERIES_COLORS[1]} strokeWidth={1.4} strokeLinejoin="round" />
      <path d={dayPaths(s1, FR_MID, yM)} fill="none" stroke={SERIES_COLORS[2]} strokeWidth={1.4} strokeLinejoin="round" />
      <path d={dayPaths(s2, FR_MID, yM)} fill="none" stroke={SERIES_COLORS[3]} strokeWidth={1.4} strokeLinejoin="round" />
      <path d={dayPaths(s3, FR_BOT, yB)} fill="none" stroke={SERIES_COLORS[4]} strokeWidth={1.5} strokeLinejoin="round" />
      <path d={dayPaths(s4, FR_BOT, yB)} fill="none" stroke={SERIES_COLORS[5]} strokeWidth={1.4} strokeLinejoin="round" />

      {/* frame */}
      <line x1={XL} x2={XR} y1={y0} y2={y0} stroke="#555" strokeWidth={1} />
      <line x1={XL} x2={XL} y1={y0} y2={y3} stroke="#666" strokeWidth={1} />
      <line x1={XR} x2={XR} y1={y0} y2={y3 + 3} stroke="#aaa" strokeWidth={1.5} />
      <line x1={XL} x2={XR} y1={y3} y2={y3} stroke="#555" strokeWidth={1} />
      <line x1={XL} x2={XR} y1={y1} y2={y1} stroke="#666" strokeWidth={1} strokeDasharray="1.2,1.3" />
      <line x1={XL} x2={XR} y1={y2} y2={y2} stroke="#cfcfcf" strokeWidth={2.2} />
      <line x1={XL} x2={XR} y1={y2} y2={y2} stroke="#777" strokeWidth={0.9} strokeDasharray="1.2,1.3" />

      {/* x axis */}
      {d3.range(0, 31).map((k) => (
        <line key={"xt" + k} x1={x(k)} x2={x(k)} y1={y3} y2={y3 + 3} stroke={tickColor} strokeWidth={0.8} />
      ))}
      {DAY_LABELS.map((lab, i) => (
        <text key={"xl" + i} x={x(i + 0.5)} y={y3 + 9.5} fontSize={8} textAnchor="middle" fill="#222">
          {lab}
        </text>
      ))}
      <text x={619} y={y3 + 9.8} fontSize={9.5} fill="#222">{MONTH_LABEL}</text>

      {/* CSR axes */}
      {cfg.csrTicks.map((t) => (
        <g key={"ct" + t}>
          <line x1={XL - 3} x2={XL} y1={yM(t)} y2={yM(t)} stroke={tickColor} strokeWidth={0.8} />
          <text x={XL - 4} y={yM(t)} dy="0.35em" fontSize={7.6} textAnchor="end" fill="#222">{fmt(t)}</text>
          <line x1={XL - 3} x2={XL} y1={yB(t)} y2={yB(t)} stroke={tickColor} strokeWidth={0.8} />
          <text x={XL - 4} y={yB(t)} dy="0.35em" fontSize={7.6} textAnchor="end" fill="#222">{fmt(t)}</text>
        </g>
      ))}
      <text transform={`translate(8.5,${(y1 + y2) / 2}) rotate(-90)`} fontSize={8} textAnchor="middle" fill="#222">CSR</text>
      <text transform={`translate(8.5,${(y2 + y3) / 2}) rotate(-90)`} fontSize={8} textAnchor="middle" fill="#222">CSR</text>

      {/* right axes */}
      {cfg.powerTicks.map((t) => (
        <g key={"pt" + t}>
          <line x1={XR} x2={XR + 3} y1={yP(t)} y2={yP(t)} stroke={tickColor} strokeWidth={0.8} />
          <text x={XR + 4} y={yP(t)} dy="0.35em" fontSize={7.6} fill="#222">{t}</text>
        </g>
      ))}
      <text transform={`translate(642,${(y0 + y1) / 2}) rotate(-90)`} fontSize={7.8} textAnchor="middle" fill="#222">Power (MW)</text>
      <line x1={XG} x2={XG} y1={y0} y2={y1} stroke={tickColor} strokeWidth={0.8} />
      {cfg.gtiTicks.map((t) => (
        <g key={"gt" + t}>
          <line x1={XG} x2={XG + 3} y1={yG(t)} y2={yG(t)} stroke={tickColor} strokeWidth={0.8} />
          <text x={XG + 4} y={yG(t)} dy="0.35em" fontSize={7.6} fill="#222">{t}</text>
        </g>
      ))}
      <text transform={`translate(677.5,${(y0 + y1) / 2}) rotate(-90)`} fontSize={7.8} textAnchor="middle" fill="#222">
        GTI (W/m<tspan fontSize={5.5} dy={-3}>2</tspan><tspan dy={3}>)</tspan>
      </text>

      {/* R values */}
      {cfg.r.map((v, i) => (
        <text key={"r" + i} x={cfg.rPos[i].x} y={top + cfg.rPos[i].y} fontSize={9.2} fill="#222">
          {`R${i + 1}=${v.toFixed(2)}`}
        </text>
      ))}

      {/* legend */}
      <rect x={622.5} y={top + 58.5} width={48} height={55} rx={2} fill="#fff" stroke="#cccccc" strokeWidth={0.8} />
      {SERIES_NAMES.map((nm, i) => (
        <g key={"lg" + i}>
          <line x1={625.5} x2={632.5} y1={top + 65.3 + i * 8.7} y2={top + 65.3 + i * 8.7} stroke={SERIES_COLORS[i]} strokeWidth={1.5} />
          <text x={634.5} y={top + 65.3 + i * 8.7} dy="0.35em" fontSize={7.2} fill="#333">{nm}</text>
        </g>
      ))}

      {/* site & letter */}
      <text x={649} y={top + 129.5} fontSize={11.5} fontWeight="bold" textAnchor="middle" fill="#111">{SITES[idx]}</text>
      <text x={6} y={top + 20} fontSize={22} fontWeight="bold" fill="#111">{LETTERS[idx]}</text>
    </g>
  );
}

export default function App() {
  return (
    <svg width={W} height={H} viewBox={`0 0 ${W} ${H}`} style={{ position: "absolute", left: 0, top: 0, background: "#fff" }}>
      <rect x={0} y={0} width={W} height={H} fill="#fff" />
      {PANELS.map((cfg, i) => (
        <Panel key={i} cfg={cfg} idx={i} />
      ))}
    </svg>
  );
}
